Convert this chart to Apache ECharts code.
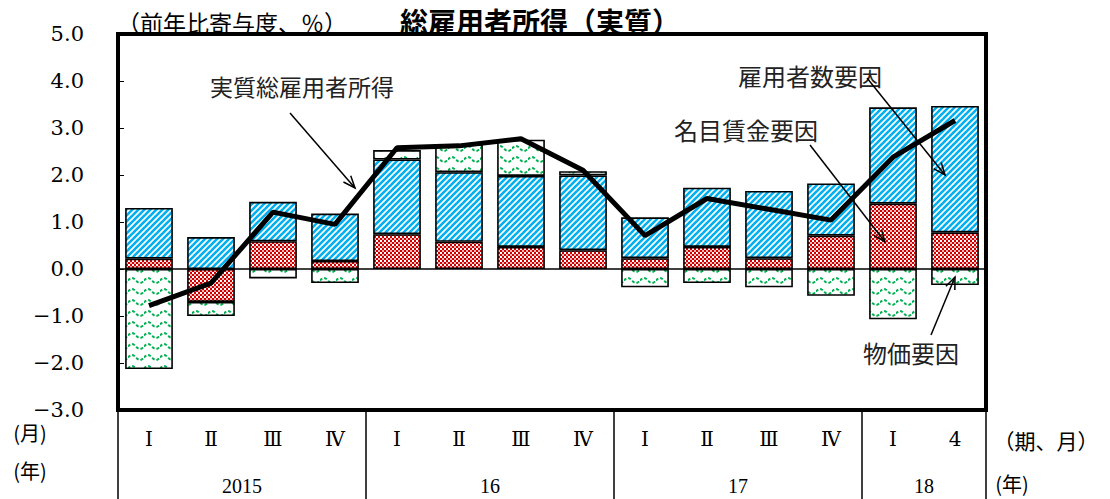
<!DOCTYPE html>
<html><head><meta charset="utf-8">
<script src="https://cdn.jsdelivr.net/npm/echarts@6/dist/echarts.min.js"></script>
<style>html,body{margin:0;padding:0;background:#fff}#c{width:1110px;height:499px}</style>
</head><body><div id="c"></div>
<script>
// ---- data ----
const quarters = ['Ⅰ','Ⅱ','Ⅲ','Ⅳ','Ⅰ','Ⅱ','Ⅲ','Ⅳ','Ⅰ','Ⅱ','Ⅲ','Ⅳ','Ⅰ','4'];
const yearTicks = ['', '', '2015', '', '', '', '16', '', '', '', '17', '', '', '18', ''];
const wageFactor     = [0.22, -0.70, 0.59, 0.17, 0.74, 0.58, 0.47, 0.40, 0.23, 0.47, 0.23, 0.71, 1.39, 0.78];
const employeeFactor = [1.08,  0.68, 0.84, 1.01, 1.59, 1.48, 1.51, 1.59, 0.87, 1.26, 1.43, 1.11, 2.05, 2.69];
const priceFactor    = [-2.13, -0.30, -0.20, -0.30, 0.20, 0.59, 0.77, 0.09, -0.39, -0.30, -0.39, -0.57, -1.07, -0.34];
const realTotalIncome = [-0.78, -0.30, 1.21, 0.95, 2.58, 2.62, 2.77, 2.10, 0.71, 1.50, 1.27, 1.04, 2.38, 3.16];
const yMin = -3, yMax = 5, yStep = 1;

// ---- patterns ----
function tile(w, h, draw) {
  const c = document.createElement('canvas'); c.width = w; c.height = h;
  const g = c.getContext('2d'); draw(g);
  return { image: c.toDataURL(), repeat: 'repeat', imageWidth: w, imageHeight: h };
}
const bluePat = tile(6, 6, g => {
  g.fillStyle = '#fff'; g.fillRect(0, 0, 6, 6);
  g.strokeStyle = '#00B0F0'; g.lineWidth = 2.6;
  [0, 6, 12].forEach(k => { g.beginPath(); g.moveTo(-2, k + 2); g.lineTo(k + 2, -2); g.stroke(); });
});
const redPat = tile(4, 4, g => {
  g.fillStyle = '#D00000'; g.fillRect(0, 0, 4, 4);
  g.fillStyle = '#fff'; g.fillRect(0, 0, 2, 2);
  g.fillStyle = '#F2B8B8'; g.fillRect(2, 2, 2, 2);
});
const greenPat = tile(16, 11, g => {
  g.fillStyle = '#fff'; g.fillRect(0, 0, 16, 11);
  g.strokeStyle = '#00B050'; g.lineWidth = 2; g.setLineDash([3, 2]);
  g.beginPath();
  for (let x = 0; x <= 16; x += 0.5) {
    const y = 5.5 - 2.5 * Math.sin(x / 16 * 2 * Math.PI);
    if (x === 0) g.moveTo(x, y); else g.lineTo(x, y);
  }
  g.stroke();
});

// ---- annotations ----
function arrow(x1, y1, x2, y2) {
  const a = Math.atan2(y2 - y1, x2 - x1), L = 13, t = 0.38;
  return [
    { type: 'polyline', z: 20, shape: { points: [[x1, y1], [x2, y2]] }, style: { stroke: '#000', lineWidth: 1.5, fill: null } },
    { type: 'polyline', z: 20, shape: { points: [[x2 - L * Math.cos(a - t), y2 - L * Math.sin(a - t)], [x2, y2], [x2 - L * Math.cos(a + t), y2 - L * Math.sin(a + t)]] }, style: { stroke: '#000', lineWidth: 1.5, fill: null } }
  ];
}
function txt(s, x, y, size, opts) {
  return { type: 'text', z: 20, style: Object.assign({ text: s, x: x, y: y, fill: '#111', textAlign: 'center', textVerticalAlign: 'middle', font: size + 'px "Noto Sans CJK JP"' }, opts || {}) };
}
const serif = '"Liberation Serif", "Noto Sans CJK JP"';
const graphics = [].concat(
  [txt('総雇用者所得（実質）', 540, 21, 28, { font: 'bold 28px "Noto Sans CJK JP"', fill: '#000' })],
  [txt('（前年比寄与度、％）', 232, 22, 23, { fill: '#000' })],
  [txt('実質総雇用者所得', 302, 86, 23, { fill: '#222' })], arrow(290, 113, 355, 188),
  [txt('雇用者数要因', 810, 75, 24, { fill: '#222' })], arrow(867, 78, 945, 175),
  [txt('名目賃金要因', 746, 129, 24, { fill: '#222' })], arrow(810, 145, 885, 242),
  [txt('物価要因', 911, 352, 24, { fill: '#222' })], arrow(931, 335, 955, 277),
  [txt('(月)', 30, 432, 20, { fill: '#000' })],
  [txt('(年)', 30, 470, 20, { fill: '#000' })],
  [txt('（期、月）', 1046, 440, 21, { fill: '#000' })],
  [txt('(年)', 1012, 483, 20, { fill: '#000' })]
);

const chart = echarts.init(document.getElementById('c'), null, { renderer: 'svg' });
const barStyle = (pat) => ({ color: pat, borderColor: '#000', borderWidth: 1.6 });
chart.setOption({
  animation: false,
  textStyle: { fontFamily: serif },
  grid: { left: 118, right: 124, top: 34, bottom: 89, show: true, borderColor: '#000', borderWidth: 4, backgroundColor: 'transparent' },
  xAxis: [
    { type: 'category', data: quarters, position: 'bottom',
      axisLine: { show: false }, axisTick: { show: false },
      axisLabel: { interval: 0, margin: 19, fontSize: 20, color: '#000', fontFamily: '"DejaVu Serif", "Noto Sans CJK JP"' } },
    { type: 'category', data: yearTicks, position: 'bottom', boundaryGap: false,
      axisLine: { show: false },
      axisTick: { show: true, length: 89, interval: (i) => i === 0 || i === 4 || i === 8 || i === 12 || i === 14, lineStyle: { color: '#000', width: 1.5 } },
      axisLabel: { interval: 0, margin: 66, fontSize: 20, color: '#000', fontFamily: serif } }
  ],
  yAxis: { type: 'value', min: yMin, max: yMax, interval: yStep,
    axisLine: { show: false },
    axisTick: { show: true, inside: true, length: 6, lineStyle: { color: '#000', width: 1 } },
    splitLine: { show: false },
    axisLabel: { margin: 34, fontSize: 21, color: '#000', fontFamily: '"DejaVu Serif", "Noto Sans CJK JP"', formatter: v => (v < 0 ? '−' : '') + Math.abs(v).toFixed(1) } },
  series: [
    { name: '名目賃金要因', type: 'bar', stack: 'f', data: wageFactor, barCategoryGap: '23%', itemStyle: barStyle(redPat) },
    { name: '雇用者数要因', type: 'bar', stack: 'f', data: employeeFactor, itemStyle: barStyle(bluePat) },
    { name: '物価要因', type: 'bar', stack: 'f', data: priceFactor, itemStyle: barStyle(greenPat) },
    { name: '実質総雇用者所得', type: 'line', data: realTotalIncome, symbol: 'none', z: 5,
      lineStyle: { color: '#000', width: 5 },
      markLine: { silent: true, symbol: ['none', 'none'], label: { show: false }, lineStyle: { color: '#000', width: 1.5, type: 'solid' }, data: [{ yAxis: 0 }] } }
  ],
  graphic: graphics
});
</script>
</body></html>
